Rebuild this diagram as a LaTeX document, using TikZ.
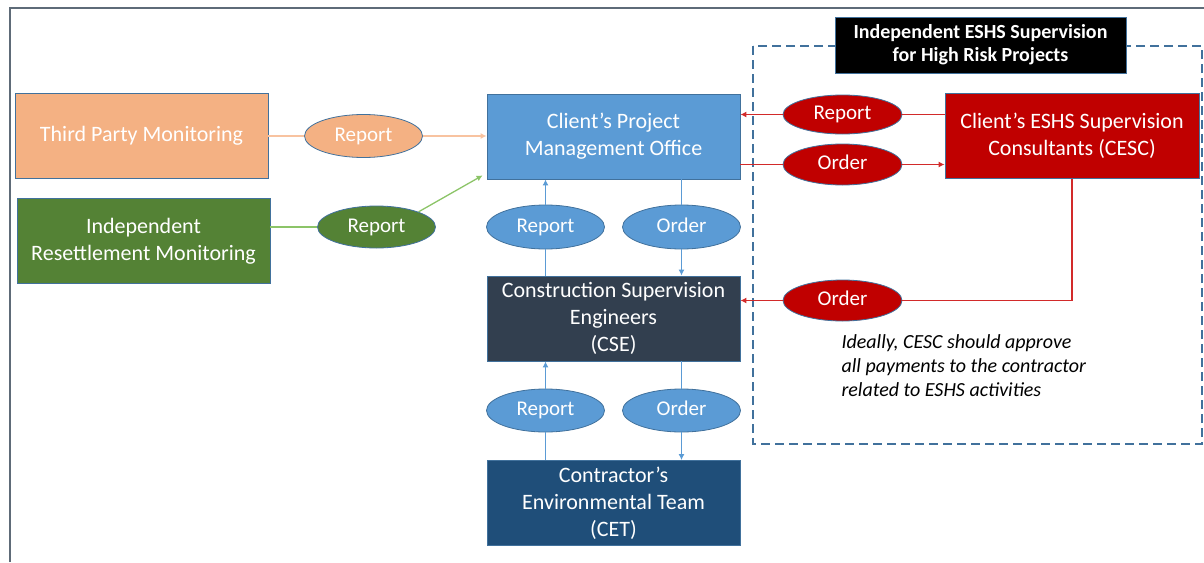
\documentclass[tikz,border=0pt]{standalone}
\usepackage{fontspec}
\setmainfont{Carlito}
\usetikzlibrary{shapes.geometric,arrows.meta}

\definecolor{edge}{HTML}{41719C}
\definecolor{tpmfill}{HTML}{F4B183}
\definecolor{tpmline}{HTML}{F8C3A0}
\definecolor{irmfill}{HTML}{548235}
\definecolor{irmline}{HTML}{8CC468}
\definecolor{pmofill}{HTML}{5B9BD5}
\definecolor{csefill}{HTML}{323F4F}
\definecolor{cetfill}{HTML}{1F4E79}
\definecolor{cescfill}{HTML}{C00000}
\definecolor{redline}{HTML}{D22A2A}
\definecolor{framecol}{HTML}{5E6B78}

\tikzset{
    box/.style={rectangle, draw=edge, line width=0.8pt, text=white, align=center,
        inner sep=0pt, minimum width=253pt, minimum height=85pt,
        font=\fontsize{22}{27}\selectfont},
    oval/.style={ellipse, draw=edge, line width=0.8pt, text=white, inner sep=0pt,
        text height=14pt, text depth=4pt,
        minimum width=118pt, minimum height=43pt, font=\fontsize{21}{25}\selectfont},
    link/.style={line width=1.3pt},
    tip/.style={-{Latex[length=6pt,width=6pt]}}
}

\begin{document}
\begin{tikzpicture}[x=1pt, y=-1pt]
    \useasboundingbox (0,0) rectangle (1204,562);
    \draw[framecol, line width=2pt] (10,562) |- (1204,8);

    % dashed frame and its title
    \draw[edge, line width=1.2pt, dash pattern=on 9pt off 5pt] (753,46) rectangle (1202,444);
    \node [rectangle, fill=black, draw=edge, text=white, align=center, inner sep=0pt,
        minimum width=291pt, minimum height=56pt, font=\fontsize{20}{23}\selectfont\bfseries]
        (title) at (980.5,45) {Independent ESHS Supervision\\for High Risk Projects};

    % boxes
    \node [box, fill=tpmfill] (tpm) at (141.5,136) {Third Party Monitoring};
    \node [box, fill=irmfill] (irm) at (143.5,241) {Independent\\Resettlement Monitoring};
    \node [box, fill=pmofill] (pmo) at (613.5,136.5) {Client’s Project\\Management Office};
    \node [box, fill=csefill] (cse) at (613.5,318.5) {Construction Supervision\\Engineers\\(CSE)};
    \node [box, fill=cetfill] (cet) at (613.5,503) {Contractor’s\\Environmental Team\\(CET)};
    \node [box, fill=cescfill, minimum width=254pt] (cesc) at (1072,136) {Client’s ESHS Supervision\\Consultants (CESC)};

    % ovals
    \node [oval, fill=tpmfill] (tpmrep) at (363.5,136) {Report};
    \node [oval, fill=irmfill, minimum height=42pt] (irmrep) at (376.5,227) {Report};
    \node [oval, fill=pmofill, minimum height=44pt] (cserep) at (545.5,227) {Report};
    \node [oval, fill=pmofill, minimum height=44pt] (pmoord) at (681.5,227) {Order};
    \node [oval, fill=pmofill] (cetrep) at (545.5,410.5) {Report};
    \node [oval, fill=pmofill] (cseord) at (681.5,410.5) {Order};
    \node [oval, fill=cescfill, minimum width=119pt, minimum height=39pt] (cescrep) at (842.5,114.5) {Report};
    \node [oval, fill=cescfill, minimum width=119pt, minimum height=41pt] (pmoord2) at (842.5,164.5) {Order};
    \node [oval, fill=cescfill, minimum width=119pt, minimum height=41pt] (cescord) at (842.5,300.5) {Order};

    \node [anchor=north west, align=left, font=\fontsize{20}{24}\selectfont\itshape] (note) at (838,331)
        {Ideally, CESC should approve\\all payments to the contractor\\related to ESHS activities};

    % left side
    \draw[link, tpmline] (tpm.east) -- (tpmrep.west);
    \draw[link, tpmline, tip] (tpmrep.east) -- (tpmrep.east -| pmo.west);
    \draw[link, irmline] (irm.east |- irmrep.west) -- (irmrep.west);
    \draw[link, irmline, tip] (irmrep.north east) -- ([shift={(-4,-4)}]pmo.south west);

    % centre column
    \draw[link, pmofill] (cserep.south |- cse.north) -- (cserep.south);
    \draw[link, pmofill, tip] (cserep.north) -- (cserep.north |- pmo.south);
    \draw[link, pmofill] (pmoord.north |- pmo.south) -- (pmoord.north);
    \draw[link, pmofill, tip] (pmoord.south) -- (pmoord.south |- cse.north);
    \draw[link, pmofill] (cetrep.south |- cet.north) -- (cetrep.south);
    \draw[link, pmofill, tip] (cetrep.north) -- (cetrep.north |- cse.south);
    \draw[link, pmofill] (cseord.north |- cse.south) -- (cseord.north);
    \draw[link, pmofill, tip] (cseord.south) -- (cseord.south |- cet.north);

    % right side
    \draw[link, redline] (cesc.west |- cescrep.east) -- (cescrep.east);
    \draw[link, redline, tip] (cescrep.west) -- (cescrep.west -| pmo.east);
    \draw[link, redline] (pmoord2.west -| pmo.east) -- (pmoord2.west);
    \draw[link, redline, tip] (pmoord2.east) -- (pmoord2.east -| cesc.west);
    \draw[link, redline] (cesc.south) |- (cescord.east);
    \draw[link, redline, tip] (cescord.west) -- (cescord.west -| cse.east);
\end{tikzpicture}
\end{document}
